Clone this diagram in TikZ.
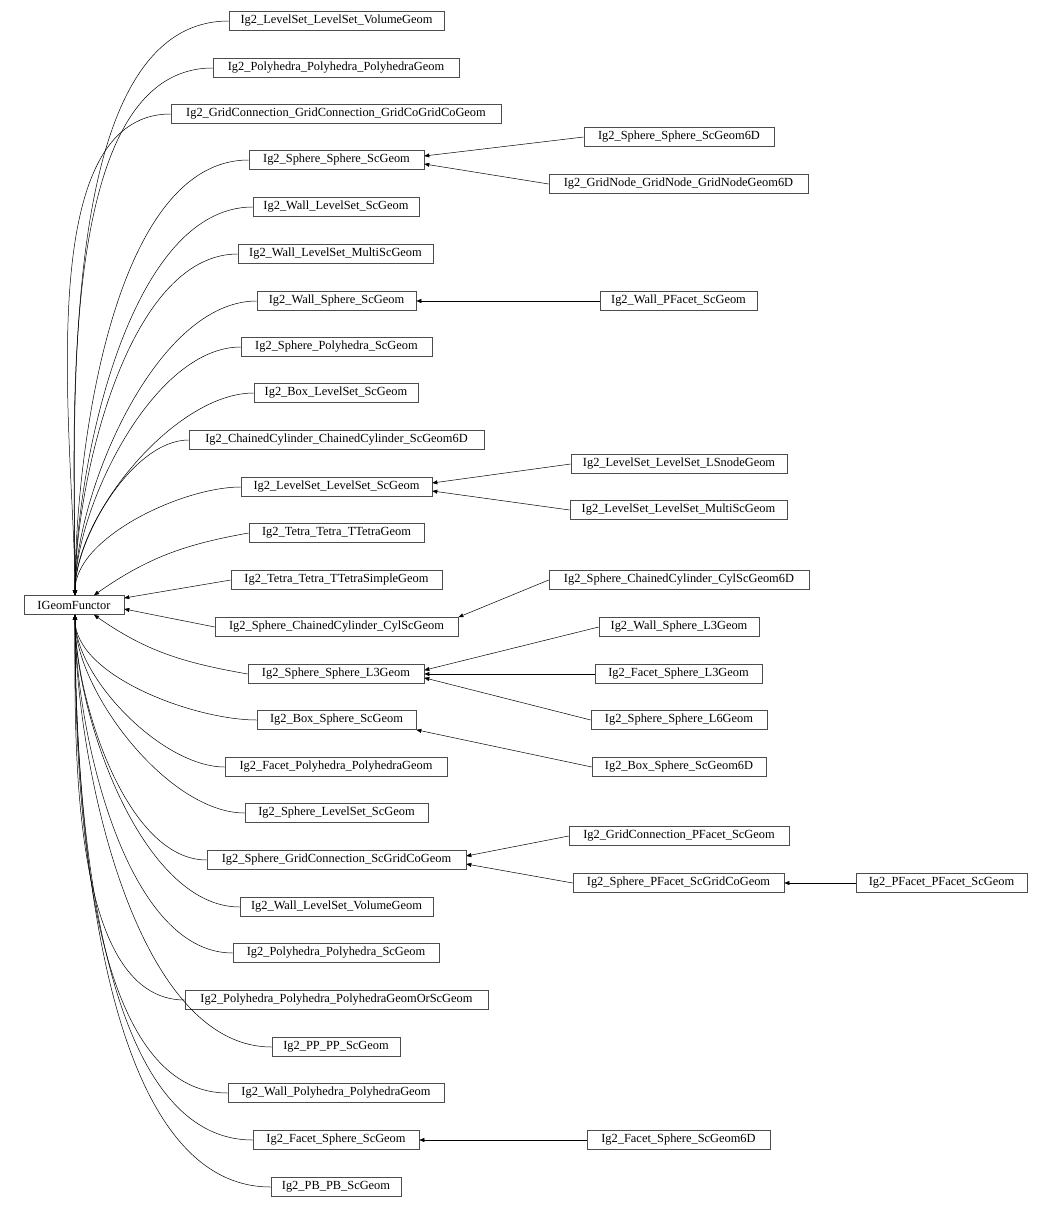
\documentclass[tikz,border=0pt]{standalone}
\usepackage{fontspec}
\setmainfont{Liberation Serif}
\usetikzlibrary{arrows.meta}
\begin{document}
\begin{tikzpicture}[x=1pt,y=-1pt,
 box/.style={draw=black!70,line width=0.6pt,minimum height=19pt,inner sep=0.5pt,font=\fontsize{12.4}{14}\selectfont},
 arr/.style={-{Triangle[length=5pt,width=4pt]},line width=0.5pt},
 up/.style={out=180,in=90,looseness=0.75},
 dn/.style={out=180,in=-90,looseness=0.75}]
\useasboundingbox (0,0) rectangle (1052,1210);
\newcommand{\bx}[5]{\node[box,minimum width={#3-#2}] (#1) at ({(#2+#3)/2},#4) {#5};}
\bx{IG}{24}{124}{605}{IGeomFunctor}
\bx{a1}{229}{444}{21}{Ig2\_LevelSet\_LevelSet\_VolumeGeom}
\bx{a2}{213}{459}{68}{Ig2\_Polyhedra\_Polyhedra\_PolyhedraGeom}
\bx{a3}{171}{501}{114}{Ig2\_GridConnection\_GridConnection\_GridCoGridCoGeom}
\bx{a4}{249}{424}{160}{Ig2\_Sphere\_Sphere\_ScGeom}
\bx{a5}{253}{419}{207}{Ig2\_Wall\_LevelSet\_ScGeom}
\bx{a6}{238}{433}{254}{Ig2\_Wall\_LevelSet\_MultiScGeom}
\bx{a7}{257}{416}{301}{Ig2\_Wall\_Sphere\_ScGeom}
\bx{a8}{241}{432}{347}{Ig2\_Sphere\_Polyhedra\_ScGeom}
\bx{a9}{254}{418}{393}{Ig2\_Box\_LevelSet\_ScGeom}
\bx{a10}{189}{484}{440}{Ig2\_ChainedCylinder\_ChainedCylinder\_ScGeom6D}
\bx{a11}{241}{432}{487}{Ig2\_LevelSet\_LevelSet\_ScGeom}
\bx{a12}{249}{424}{533}{Ig2\_Tetra\_Tetra\_TTetraGeom}
\bx{a13}{231}{442}{580}{Ig2\_Tetra\_Tetra\_TTetraSimpleGeom}
\bx{a14}{215}{458}{627}{Ig2\_Sphere\_ChainedCylinder\_CylScGeom}
\bx{a15}{248}{424}{674}{Ig2\_Sphere\_Sphere\_L3Geom}
\bx{a16}{257}{416}{720}{Ig2\_Box\_Sphere\_ScGeom}
\bx{a17}{225}{447}{767}{Ig2\_Facet\_Polyhedra\_PolyhedraGeom}
\bx{a18}{245}{428}{813}{Ig2\_Sphere\_LevelSet\_ScGeom}
\bx{a19}{207}{466}{860}{Ig2\_Sphere\_GridConnection\_ScGridCoGeom}
\bx{a20}{240}{433}{907}{Ig2\_Wall\_LevelSet\_VolumeGeom}
\bx{a21}{233}{439}{953}{Ig2\_Polyhedra\_Polyhedra\_ScGeom}
\bx{a22}{185}{488}{1000}{Ig2\_Polyhedra\_Polyhedra\_PolyhedraGeomOrScGeom}
\bx{a23}{272}{400}{1047}{Ig2\_PP\_PP\_ScGeom}
\bx{a24}{228}{444}{1093}{Ig2\_Wall\_Polyhedra\_PolyhedraGeom}
\bx{a25}{253}{419}{1140}{Ig2\_Facet\_Sphere\_ScGeom}
\bx{a26}{271}{401}{1187}{Ig2\_PB\_PB\_ScGeom}
\bx{b1}{584}{774}{137}{Ig2\_Sphere\_Sphere\_ScGeom6D}
\bx{b2}{549}{808}{184}{Ig2\_GridNode\_GridNode\_GridNodeGeom6D}
\bx{b3}{600}{757}{301}{Ig2\_Wall\_PFacet\_ScGeom}
\bx{b4}{571}{787}{464}{Ig2\_LevelSet\_LevelSet\_LSnodeGeom}
\bx{b5}{570}{787}{510}{Ig2\_LevelSet\_LevelSet\_MultiScGeom}
\bx{b6}{549}{809}{580}{Ig2\_Sphere\_ChainedCylinder\_CylScGeom6D}
\bx{b7}{599}{759}{627}{Ig2\_Wall\_Sphere\_L3Geom}
\bx{b8}{595}{762}{674}{Ig2\_Facet\_Sphere\_L3Geom}
\bx{b9}{591}{767}{720}{Ig2\_Sphere\_Sphere\_L6Geom}
\bx{b10}{592}{766}{767}{Ig2\_Box\_Sphere\_ScGeom6D}
\bx{b11}{569}{789}{836}{Ig2\_GridConnection\_PFacet\_ScGeom}
\bx{b12}{573}{784}{883}{Ig2\_Sphere\_PFacet\_ScGridCoGeom}
\bx{b13}{587}{770}{1140}{Ig2\_Facet\_Sphere\_ScGeom6D}
\bx{c1}{856}{1027}{883}{Ig2\_PFacet\_PFacet\_ScGeom}
% edges to IGeomFunctor
\foreach \n in {a1,a2,a3,a4,a5,a6,a7,a8,a9,a10,a11}
  \draw[arr] (\n.west) to[up] ([xshift=1pt]IG.north);
\draw[arr] (a12.west) to[out=190,in=35] ([xshift=20pt]IG.north);
\draw[arr] (a13.west) -- ([yshift=7pt]IG.east);
\draw[arr] (a14.west) -- ([yshift=-4pt]IG.east);
\draw[arr] (a15.west) to[out=170,in=-35] ([xshift=20pt]IG.south);
\foreach \n in {a16,a17,a18,a19,a20,a21,a22,a23,a24,a25,a26}
  \draw[arr] (\n.west) to[dn] ([xshift=1pt]IG.south);
% right edges
\draw[arr] (b1.west) -- ([yshift=4pt]a4.east);
\draw[arr] (b2.west) -- ([yshift=-4pt]a4.east);
\draw[arr] (b3.west) -- (a7.east);
\draw[arr] (b4.west) -- ([yshift=4pt]a11.east);
\draw[arr] (b5.west) -- ([yshift=-4pt]a11.east);
\draw[arr] (b6.west) -- (a14.north east);
\draw[arr] (b7.west) -- ([yshift=-6pt]a15.north east);
\draw[arr] (b8.west) -- (a15.east);
\draw[arr] (b9.west) -- ([yshift=6pt]a15.south east);
\draw[arr] (b10.west) -- (a16.south east);
\draw[arr] (b11.west) -- ([yshift=4pt]a19.east);
\draw[arr] (b12.west) -- ([yshift=-4pt]a19.east);
\draw[arr] (b13.west) -- (a25.east);
\draw[arr] (c1.west) -- (b12.east);
\end{tikzpicture}
\end{document}
